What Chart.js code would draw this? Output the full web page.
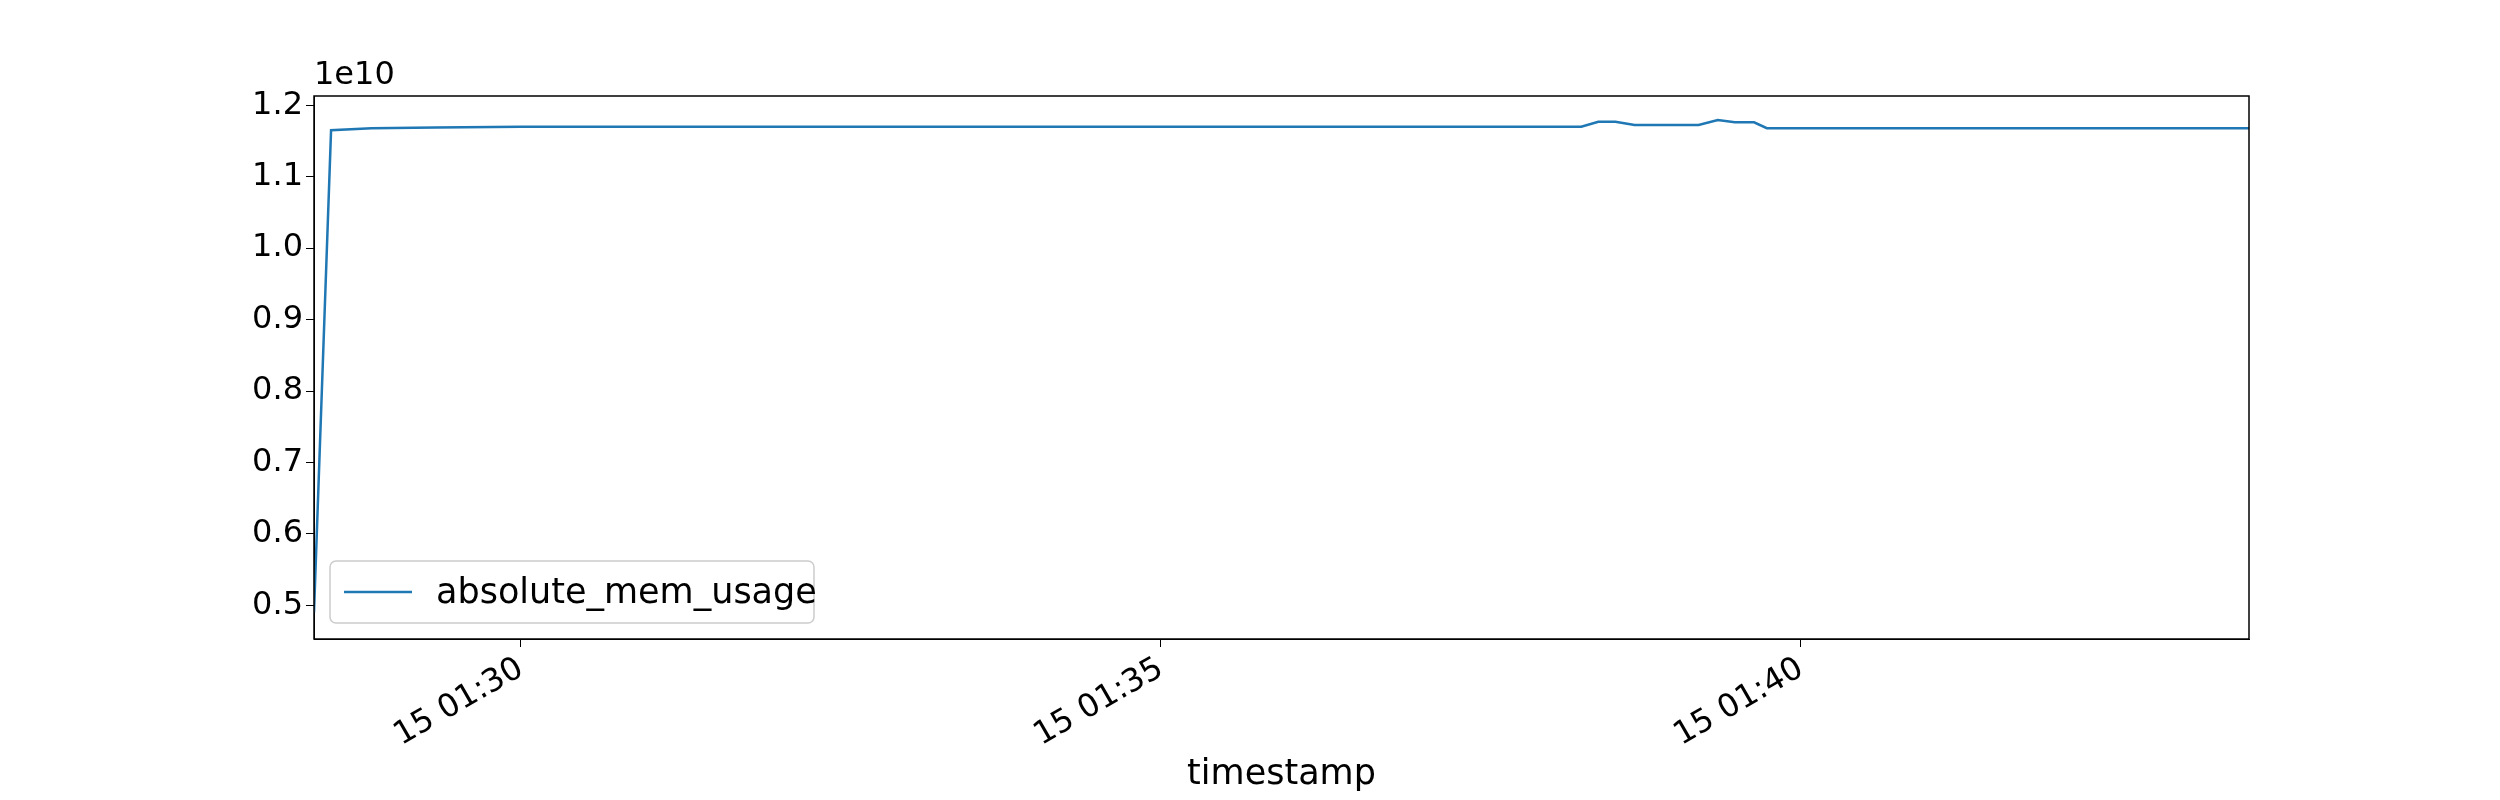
<!DOCTYPE html>
<html>
<head>
<meta charset="utf-8">
<script src="https://cdn.jsdelivr.net/npm/chart.js@4"></script>
<style>
  html, body { margin: 0; padding: 0; background: #fff; }
  #wrap { width: 2500px; height: 800px; }
</style>
</head>
<body>
<div id="wrap"><canvas id="c" width="2500" height="800"></canvas></div>
<script>
// seconds relative to 01:30:00
const times = [-97, -89, -70, -40, 0, 300, 497, 505, 513, 522, 552, 561, 569, 578, 584, 700, 810];
// memory usage in units of 1e10 bytes
const memUsage = [0.49, 1.165, 1.168, 1.169, 1.170, 1.170, 1.170, 1.177, 1.177, 1.1725, 1.1725, 1.1793, 1.1762, 1.1762, 1.168, 1.168, 1.168];
const xTicks = [0, 300, 600];
const xTickLabels = ['15 01:30', '15 01:35', '15 01:40'];
const yTicks = [0.5, 0.6, 0.7, 0.8, 0.9, 1.0, 1.1, 1.2];
const FONT = 'DejaVu Sans';

const frame = {
  id: 'frame',
  afterDraw(chart) {
    const { ctx, chartArea: a } = chart;
    ctx.save();
    ctx.strokeStyle = '#000';
    ctx.lineWidth = 1.5;
    ctx.strokeRect(a.left, a.top, a.right - a.left, a.bottom - a.top);
    ctx.fillStyle = '#000';
    ctx.font = `32px "${FONT}"`;
    ctx.textBaseline = 'bottom';
    ctx.fillText('1e10', a.left, a.top - 4);
    // legend
    const lx = a.left + 16, ly = a.bottom - 16 - 62, lw = 484, lh = 62;
    ctx.fillStyle = 'rgba(255,255,255,0.8)';
    ctx.strokeStyle = '#ccc';
    ctx.lineWidth = 1.5;
    ctx.beginPath();
    ctx.roundRect(lx, ly, lw, lh, 6);
    ctx.fill(); ctx.stroke();
    ctx.strokeStyle = '#1f77b4';
    ctx.lineWidth = 2.5;
    ctx.beginPath();
    ctx.moveTo(lx + 14, ly + lh / 2);
    ctx.lineTo(lx + 82, ly + lh / 2);
    ctx.stroke();
    ctx.fillStyle = '#000';
    ctx.font = `35px "${FONT}"`;
    ctx.textBaseline = 'middle';
    ctx.fillText(chart.data.datasets[0].label, lx + 106, ly + lh / 2 + 2);
    ctx.restore();
  }
};

new Chart(document.getElementById('c'), {
  type: 'line',
  data: {
    datasets: [{
      label: 'absolute_mem_usage',
      data: times.map((t, i) => ({ x: t, y: memUsage[i] })),
      borderColor: '#1f77b4',
      borderWidth: 2.5,
      pointRadius: 0,
      tension: 0,
    }],
  },
  options: {
    responsive: false,
    animation: false,
    layout: { padding: { left: 214, right: 251, top: 96, bottom: 0 } },
    plugins: { legend: { display: false }, tooltip: { enabled: false } },
    scales: {
      x: {
        type: 'linear',
        min: -97,
        max: 810,
        afterFit: (s) => { s.height = 161; },
        afterBuildTicks: (s) => { s.ticks = xTicks.map(v => ({ value: v })); },
        grid: { drawOnChartArea: false, color: '#000', tickLength: 8 },
        border: { color: '#000' },
        ticks: {
          color: '#000',
          font: { family: FONT, size: 32 },
          maxRotation: 30, minRotation: 30,
          callback: (v) => xTickLabels[xTicks.indexOf(v)],
        },
        title: { display: true, text: 'timestamp', color: '#000', font: { family: FONT, size: 35 }, padding: { top: 0 } },
      },
      y: {
        min: 0.453,
        max: 1.213,
        afterFit: (s) => { s.width = 100; },
        afterBuildTicks: (s) => { s.ticks = yTicks.map(v => ({ value: v })); },
        grid: { drawOnChartArea: false, color: '#000', tickLength: 8 },
        border: { color: '#000' },
        ticks: {
          color: '#000',
          font: { family: FONT, size: 32 },
          callback: (v) => v.toFixed(1),
        },
      },
    },
  },
  plugins: [frame],
});
</script>
</body>
</html>
